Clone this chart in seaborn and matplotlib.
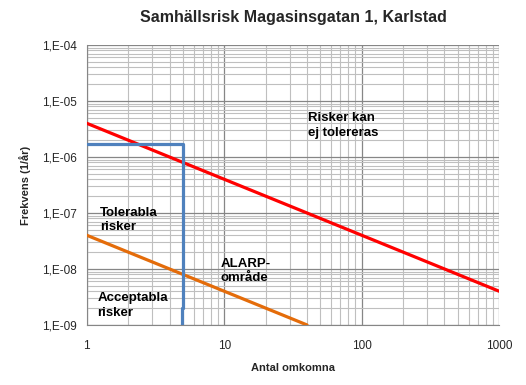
import numpy as np
import pandas as pd
import seaborn as sns
import matplotlib.pyplot as plt
from matplotlib.ticker import LogLocator, FixedLocator, NullFormatter

# data
red_x = [1, 1000]
red_y = [4e-6, 4e-9]
orange_x = [1, 40]
orange_y = [4e-8, 1e-9]
blue_x = [1, 5, 5, 4.95, 4.95]
blue_y = [1.7e-6, 1.7e-6, 2e-9, 2e-9, 1e-9]

y_ticks = [1e-9, 1e-8, 1e-7, 1e-6, 1e-5, 1e-4]
y_labels = ["1,E-09", "1,E-08", "1,E-07", "1,E-06", "1,E-05", "1,E-04"]
x_ticks = [1, 10, 100, 1000]
x_labels = ["1", "10", "100", "1000"]

sns.set_style("white")
plt.rcParams["font.family"] = ["Liberation Sans", "DejaVu Sans"]

fig = plt.figure(figsize=(5.26, 3.85), dpi=100)
ax = fig.add_axes([0.165, 0.156, 0.784, 0.727])

red = pd.DataFrame({"x": red_x, "y": red_y})
orange = pd.DataFrame({"x": orange_x, "y": orange_y})
blue = pd.DataFrame({"x": blue_x, "y": blue_y})

sns.lineplot(data=red, x="x", y="y", ax=ax, color="#ff0000", lw=2.3, zorder=3)
sns.lineplot(data=orange, x="x", y="y", ax=ax, color="#e46c0a", lw=2.3, zorder=3)
sns.lineplot(data=blue, x="x", y="y", ax=ax, color="#4f81bd", lw=2.3, zorder=3,
             sort=False, estimator=None)

ax.set_xscale("log")
ax.set_yscale("log")
ax.set_xlim(1, 1000)
ax.set_ylim(1e-9, 1e-4)

ax.yaxis.set_major_locator(FixedLocator(y_ticks))
ax.set_yticklabels(y_labels)
ax.xaxis.set_major_locator(FixedLocator(x_ticks))
ax.set_xticklabels(x_labels)
ax.xaxis.set_minor_locator(LogLocator(base=10, subs=np.arange(2, 10), numticks=20))
ax.yaxis.set_minor_locator(LogLocator(base=10, subs=np.arange(2, 10), numticks=20))
ax.xaxis.set_minor_formatter(NullFormatter())
ax.yaxis.set_minor_formatter(NullFormatter())

ax.grid(which="major", color="#868686", lw=0.9)
ax.grid(which="minor", color="#bfbfbf", lw=0.8)
ax.set_axisbelow(True)
ax.tick_params(which="major", labelsize=8.5, length=3, color="#868686", pad=4)
ax.tick_params(which="minor", length=0)
ax.tick_params(axis="x", pad=8)
for side in ["top", "right"]:
    ax.spines[side].set_visible(False)
for side in ["left", "bottom"]:
    ax.spines[side].set_color("#868686")

ax.set_xlabel("Antal omkomna", fontsize=8, fontweight="bold", labelpad=8)
ax.set_ylabel("Frekvens (1/år)", fontsize=8, fontweight="bold", labelpad=8)
fig.text(0.557, 0.955, "Samhällsrisk Magasinsgatan 1, Karlstad", ha="center", va="center",
         fontsize=11.5, fontweight="bold")

tkw = dict(fontsize=9.5, fontweight="bold", va="top", ha="left", linespacing=1.25, color="black")
ax.text(41, 6.3e-6, "Risker kan\nej tolereras", **tkw)
ax.text(1.24, 1.3e-7, "Tolerabla\nrisker", **tkw)
ax.text(9.4, 1.6e-8, "ALARP-\nområde", **tkw)
ax.text(1.19, 3.8e-9, "Acceptabla\nrisker", **tkw)

fig.savefig("out.png", dpi=100)
